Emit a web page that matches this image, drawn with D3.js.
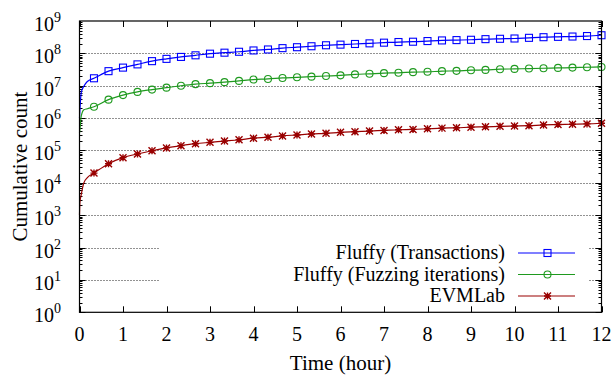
<!DOCTYPE html>
<html>
<head>
<script src="https://d3js.org/d3.v7.min.js"></script>
<style>
  body { margin: 0; background: #fff; }
  text { font-family: "Liberation Serif", "DejaVu Serif", serif; fill: #000; }
</style>
</head>
<body>
<div id="chart"></div>
<script>
// hours since start; markers only from 1/3 h on
var hours = [0, 0.01, 0.04, 0.1, 0.18,
  0.333, 0.667, 1, 1.333, 1.667, 2, 2.333, 2.667, 3, 3.333, 3.667, 4,
  4.333, 4.667, 5, 5.333, 5.667, 6, 6.333, 6.667, 7, 7.333, 7.667, 8,
  8.333, 8.667, 9, 9.333, 9.667, 10, 10.333, 10.667, 11, 11.333, 11.667, 12];

var transactions = [1.0e6, 1.8e6, 6.2e6, 9.6e6, 1.35e7,
  1.70e7, 2.82e7, 3.63e7, 4.57e7, 5.75e7, 6.76e7, 7.76e7, 8.71e7, 9.77e7,
  1.05e8, 1.12e8, 1.23e8, 1.32e8, 1.45e8, 1.55e8, 1.66e8, 1.78e8, 1.86e8,
  1.95e8, 2.04e8, 2.14e8, 2.24e8, 2.29e8, 2.40e8, 2.51e8, 2.57e8, 2.63e8,
  2.75e8, 2.82e8, 2.88e8, 3.02e8, 3.16e8, 3.24e8, 3.31e8, 3.43e8, 3.63e8];

var fuzzing = [3.5e5, 4.5e5, 1.15e6, 1.8e6, 1.95e6,
  2.24e6, 3.72e6, 5.13e6, 6.46e6, 7.59e6, 8.71e6, 1.0e7, 1.12e7, 1.20e7,
  1.29e7, 1.41e7, 1.55e7, 1.62e7, 1.74e7, 1.82e7, 1.91e7, 2.0e7, 2.09e7,
  2.24e7, 2.34e7, 2.45e7, 2.51e7, 2.63e7, 2.69e7, 2.82e7, 2.88e7, 3.02e7,
  3.09e7, 3.24e7, 3.31e7, 3.39e7, 3.47e7, 3.55e7, 3.63e7, 3.72e7, 3.80e7];

var evmlab = [1.0e3, 2.5e3, 4.3e3, 1.0e4, 1.45e4,
  2.0e4, 3.9e4, 6.0e4, 7.8e4, 9.8e4, 1.2e5, 1.41e5, 1.62e5, 1.78e5,
  1.95e5, 2.14e5, 2.4e5, 2.57e5, 2.82e5, 3.02e5, 3.24e5, 3.39e5, 3.63e5,
  3.8e5, 3.98e5, 4.17e5, 4.37e5, 4.47e5, 4.68e5, 4.9e5, 5.01e5, 5.25e5,
  5.37e5, 5.56e5, 5.69e5, 5.82e5, 6.17e5, 6.31e5, 6.46e5, 6.61e5, 6.92e5];

var seriesNames = ["Fluffy (Transactions)", "Fluffy (Fuzzing iterations)", "EVMLab"];
var xTicks = [0, 1, 2, 3, 4, 5, 6, 7, 8, 9, 10, 11, 12];
var yExponents = [0, 1, 2, 3, 4, 5, 6, 7, 8, 9];

var width = 615, height = 376;
var margin = {top: 21, right: 13.5, bottom: 63.7, left: 79.5};

var svg = d3.select("#chart").append("svg")
    .attr("width", width)
    .attr("height", height);

var x = d3.scaleLinear().domain([0, 12]).range([margin.left, width - margin.right]);
var y = d3.scaleLog().domain([1, 1e9]).range([height - margin.bottom, margin.top]);

var series = [
  {name: seriesNames[0], values: transactions, color: "#0000ff", marker: "square"},
  {name: seriesNames[1], values: fuzzing, color: "#1f9a1f", marker: "circle"},
  {name: seriesNames[2], values: evmlab, color: "#990000", marker: "star"}
];

/* GRID LINES (dotted, decades 10^1..10^8) */
svg.append("g")
  .selectAll("line")
  .data(yExponents.filter(function(e) { return e > 0 && e < 9; }))
  .enter().append("line")
    .attr("x1", x(0)).attr("x2", x(12))
    .attr("y1", function(e) { return Math.round(y(Math.pow(10, e))) + 0.5; })
    .attr("y2", function(e) { return Math.round(y(Math.pow(10, e))) + 0.5; })
    .attr("stroke", "#000")
    .attr("stroke-width", 1)
    .attr("stroke-dasharray", "1,2")
    .attr("opacity", 0.85);

/* TICKS */
var ticks = svg.append("g").attr("stroke", "#000").attr("stroke-width", 1);
xTicks.forEach(function(t) {
  var px = Math.round(x(t)) + 0.5;
  ticks.append("line").attr("x1", px).attr("x2", px)
    .attr("y1", y(1)).attr("y2", y(1) - 6);
  ticks.append("line").attr("x1", px).attr("x2", px)
    .attr("y1", y(1e9)).attr("y2", y(1e9) + 6);
});
yExponents.forEach(function(e) {
  if (e === 9) return;
  for (var m = 1; m <= 9; m++) {
    var py = Math.round(y(m * Math.pow(10, e))) + 0.5;
    var len = m === 1 ? 6 : 3;
    ticks.append("line").attr("x1", x(0)).attr("x2", x(0) + len).attr("y1", py).attr("y2", py);
    ticks.append("line").attr("x1", x(12)).attr("x2", x(12) - len).attr("y1", py).attr("y2", py);
  }
});

/* LINES AND MARKERS */
var line = d3.line()
  .x(function(d) { return x(d[0]); })
  .y(function(d) { return y(d[1]); })
  .curve(d3.curveMonotoneX);

function drawMarker(g, type, cx, cy, color) {
  if (type === "square") {
    g.append("rect").attr("x", cx - 3.5).attr("y", cy - 3.5)
      .attr("width", 7).attr("height", 7)
      .attr("fill", "none").attr("stroke", color).attr("stroke-width", 1.1);
  } else if (type === "circle") {
    g.append("circle").attr("cx", cx).attr("cy", cy).attr("r", 3.5)
      .attr("fill", "none").attr("stroke", color).attr("stroke-width", 1.1);
  } else {
    var r = 3.5;
    g.append("path")
      .attr("d", "M" + (cx - r) + "," + cy + "H" + (cx + r) +
                 "M" + cx + "," + (cy - r) + "V" + (cy + r) +
                 "M" + (cx - r) + "," + (cy - r) + "L" + (cx + r) + "," + (cy + r) +
                 "M" + (cx - r) + "," + (cy + r) + "L" + (cx + r) + "," + (cy - r))
      .attr("stroke", color).attr("stroke-width", 1.4).attr("fill", "none");
  }
}

series.forEach(function(s) {
  var pts = hours.map(function(h, i) { return [h, s.values[i]]; });
  svg.append("path")
    .datum(pts)
    .attr("d", line)
    .attr("fill", "none")
    .attr("stroke", s.color)
    .attr("stroke-width", 1.2);
  var g = svg.append("g");
  pts.forEach(function(p) {
    if (p[0] >= 0.3) drawMarker(g, s.marker, x(p[0]), y(p[1]), s.color);
  });
});

/* LEGEND (opaque box) */
svg.append("rect")
  .attr("x", 160).attr("y", 238).attr("width", 428).attr("height", 68)
  .attr("fill", "#fff");
series.forEach(function(s, i) {
  var ly = 253 + i * 21.5;
  svg.append("text")
    .attr("x", 505).attr("y", ly + 6)
    .attr("text-anchor", "end")
    .attr("font-size", 20)
    .text(s.name);
  svg.append("line")
    .attr("x1", 518).attr("x2", 575).attr("y1", ly).attr("y2", ly)
    .attr("stroke", s.color).attr("stroke-width", 1.2);
  drawMarker(svg, s.marker, 547.5, ly, s.color);
});

/* BORDER */
svg.append("rect")
  .attr("x", x(0)).attr("y", y(1e9))
  .attr("width", x(12) - x(0)).attr("height", y(1) - y(1e9))
  .attr("fill", "none").attr("stroke", "#000").attr("stroke-width", 1.2);

/* TICK LABELS */
xTicks.forEach(function(t) {
  svg.append("text")
    .attr("x", x(t)).attr("y", 341)
    .attr("text-anchor", "middle")
    .attr("font-size", 20)
    .text(t);
});
yExponents.forEach(function(e) {
  var tx = svg.append("text")
    .attr("x", 61).attr("y", y(Math.pow(10, e)) + 10)
    .attr("text-anchor", "end")
    .attr("font-size", 20);
  tx.append("tspan").text("10");
  tx.append("tspan").attr("dy", -9).attr("font-size", 14).text(e);
});

/* AXIS TITLES */
svg.append("text")
  .attr("x", (x(0) + x(12)) / 2).attr("y", 370)
  .attr("text-anchor", "middle")
  .attr("font-size", 21)
  .text("Time (hour)");
svg.append("text")
  .attr("transform", "translate(27," + ((y(1) + y(1e9)) / 2) + ") rotate(-90)")
  .attr("text-anchor", "middle")
  .attr("font-size", 21)
  .text("Cumulative count");
</script>
</body>
</html>
